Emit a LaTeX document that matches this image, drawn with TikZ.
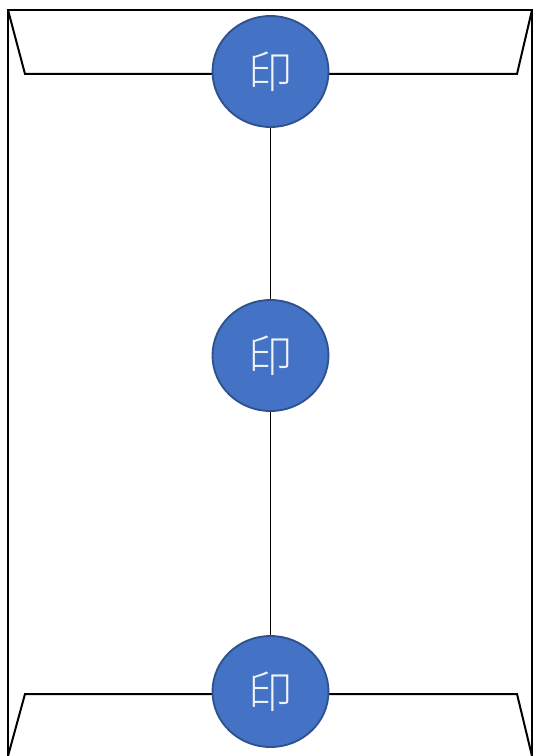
\documentclass[tikz,border=0pt]{standalone}
\usepackage{fontspec}
\newfontfamily\cjk{Noto Sans CJK JP Light}
\usetikzlibrary{shapes.geometric}
\definecolor{sealfill}{HTML}{4472C4}
\definecolor{sealedge}{HTML}{2F528F}
\tikzset{
  envline/.style={line width=1.5pt, line join=miter},
  seal/.style={ellipse, fill=sealfill, draw=sealedge, line width=1.4pt,
    minimum width=116*0.75pt, minimum height=111*0.75pt, inner sep=0pt,
    text=white!92!sealfill, font=\cjk\fontsize{33}{33}\selectfont},
  tie/.style={line width=0.75pt, black}
}
\begin{document}
\begin{tikzpicture}[x=0.75pt,y=-0.75pt]
\useasboundingbox (0,0) rectangle (533,756);
% envelope body
\draw[envline] (8,760) -- (8,10) -- (532,10) -- (532,760);
% top flap
\draw[envline] (8,10) -- (25,74) -- (517,74) -- (532,10);
% bottom flap
\draw[envline] (8,756) -- (25,694) -- (517,694) -- (532,756);
% seals
\node[seal] (top) at (270.5,71.5) {印};
\node[seal] (mid) at (270.5,355.5) {印};
\node[seal] (bot) at (270.5,691.5) {印};
\draw[tie] (top) -- (mid);
\draw[tie] (mid) -- (bot);
\end{tikzpicture}
\end{document}
